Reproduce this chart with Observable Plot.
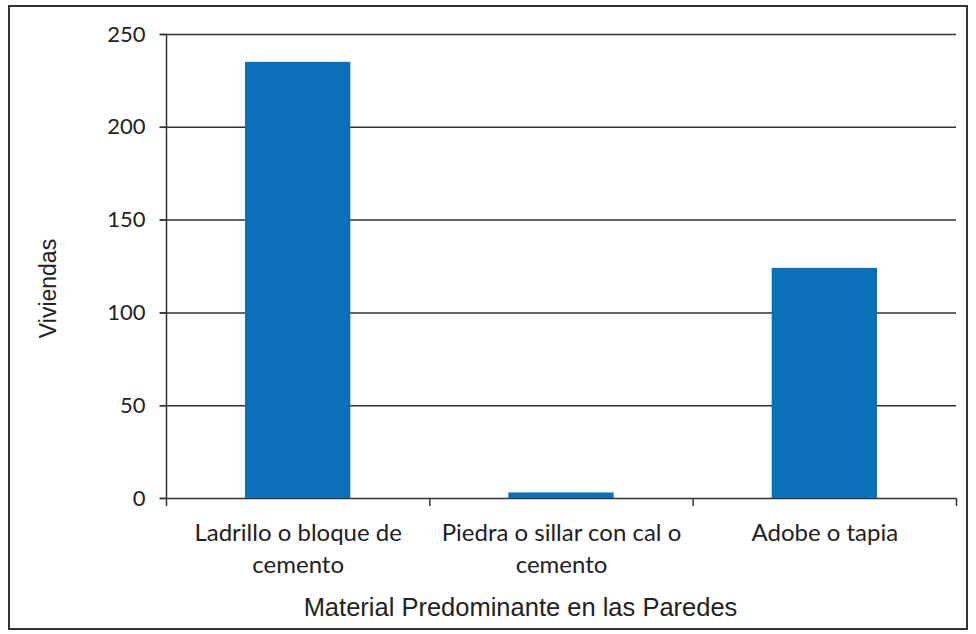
<!DOCTYPE html>
<html>
<head>
<meta charset="utf-8">
<script src="https://cdn.jsdelivr.net/npm/d3@7"></script>
<script src="https://cdn.jsdelivr.net/npm/@observablehq/plot@0.6"></script>
<style>
  html, body { margin: 0; padding: 0; background: #fff; }
  #wrap { position: relative; width: 976px; height: 634px; overflow: hidden; }
  #frame { position: absolute; left: 8px; top: 5px; width: 960px; height: 625px; border: 2px solid #333; box-sizing: border-box; pointer-events: none; }
</style>
</head>
<body>
<div id="wrap"><div id="frame"></div></div>
<script>
const categories = ["Ladrillo o bloque de cemento", "Piedra o sillar con cal o cemento", "Adobe o tapia"];
const tickLabels = ["Ladrillo o bloque de\ncemento", "Piedra o sillar con cal o\ncemento", "Adobe o tapia"];
const values = [235, 3, 124];
const yTicks = [0, 50, 100, 150, 200, 250];
const yTitle = "Viviendas";
const xTitle = "Material Predominante en las Paredes";

const data = categories.map((c, i) => ({category: c, idx: i, value: values[i]}));
const tickFont = "Lato, 'Open Sans', sans-serif";
const titleFont = "'Liberation Sans', Arial, sans-serif";

const chart = Plot.plot({
  width: 976,
  height: 634,
  marginLeft: 166,
  marginRight: 20,
  marginTop: 34,
  marginBottom: 136,
  style: {fontFamily: tickFont, fontSize: "22px", color: "#222", background: "transparent"},
  x: {type: "linear", domain: [0, categories.length], axis: null},
  y: {domain: [0, 250], axis: null},
  marks: [
    Plot.gridY(yTicks, {stroke: "#333", strokeOpacity: 1, strokeWidth: 1.5, x1: -0.025, x2: categories.length}),
    Plot.rectY(data, {x1: d => d.idx + 0.3, x2: d => d.idx + 0.7, y: "value", fill: "#0b6fba"}),
    Plot.ruleX([0], {stroke: "#333", strokeWidth: 1.5}),
    Plot.axisY({ticks: yTicks, tickSize: 6, tickPadding: 15, stroke: "#333", strokeWidth: 1.5, fontSize: 22, label: null}),
    Plot.axisX({ticks: d3.range(categories.length + 1), tickSize: 8, tickFormat: () => "", stroke: "#333", strokeWidth: 1.5, label: null}),
    Plot.axisX({ticks: categories.map((c, i) => i + 0.5), tickSize: 0, tickPadding: 20, tickFormat: (d) => tickLabels[Math.floor(d)], lineHeight: 1.33, fontSize: 24, label: null}),
    Plot.text([yTitle], {frameAnchor: "left", textAnchor: "middle", rotate: -90, dx: -118, dy: 22, fontSize: 23, fontFamily: titleFont, fill: "#222"}),
    Plot.text([xTitle], {frameAnchor: "bottom", dx: -41, dy: 117, fontSize: 25.5, fontFamily: titleFont, fill: "#222"})
  ]
});
chart.style.position = "absolute";
chart.style.left = "0px";
chart.style.top = "0px";
document.getElementById("wrap").appendChild(chart);
</script>
</body>
</html>
